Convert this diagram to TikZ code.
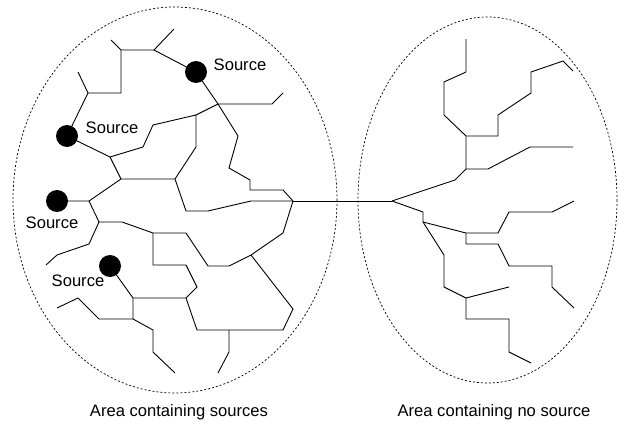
\documentclass[tikz,border=0pt]{standalone}
\usepackage{fontspec}
\setmainfont{Liberation Sans}
\begin{document}
\begin{tikzpicture}[x=1pt,y=-1pt,
  branch/.style={line width=0.9pt,line join=miter},
  area/.style={draw,line width=0.7pt,dash pattern=on 2pt off 2pt},
  src/.style={circle,fill=black,minimum size=22pt,inner sep=0pt},
  lbl/.style={font=\fontsize{16.6}{19}\selectfont,inner sep=0pt}]
\useasboundingbox (0,0) rectangle (619,423);
% areas
\draw[area] (175,200) ellipse [x radius=162,y radius=193];
\draw[area] (487.5,200) ellipse [x radius=129.5,y radius=183];
% sources
\node[src] (s1) at (196,72) {};
\node[src] (s2) at (67,136) {};
\node[src] (s3) at (57,201) {};
\node[src] (s4) at (110,266) {};
\node[lbl] (l1) at (240,65) {Source};
\node[lbl] (l2) at (112,128) {Source};
\node[lbl] (l3) at (52,223) {Source};
\node[lbl] (l4) at (78,281) {Source};
\node[lbl] (t1) at (179,412) {Area containing sources};
\node[lbl] (t2) at (494,412) {Area containing no source};
% junctions
\coordinate (a1) at (154,50);
\coordinate (a2) at (121,50);
\coordinate (a3) at (88,93);
\coordinate (J1) at (218,104);
\coordinate (a4) at (196,115);
\coordinate (a5) at (110,157);
\coordinate (a6) at (175,179);
\coordinate (a7) at (121,179);
\coordinate (a8) at (89,201);
\coordinate (a9) at (99,222);
\coordinate (a10) at (153,233);
\coordinate (a11) at (251,255);
\coordinate (a12) at (186,298);
\coordinate (a13) at (133,298);
\coordinate (a15) at (229,330);
\coordinate (a16) at (133,319);
\coordinate (J0) at (293,201);
\coordinate (J2) at (392,201);
\coordinate (b1) at (466,169);
\coordinate (b2) at (466,136);
\coordinate (b3) at (423,222);
\coordinate (b4) at (466,233);
\coordinate (b5) at (466,298);
% left network
\draw[branch] (s1.center) -- (a1) -- (174,29);
\draw[branch] (a1) -- (a2) -- (111,40);
\draw[branch] (a2) -- (121,93) -- (a3) -- (78,72);
\draw[branch] (a3) -- (s2.center);
\draw[branch] (s1.center) -- (J1) -- (272,104) -- (283,93);
\draw[branch] (J1) -- (a4) -- (153,125) -- (143,147) -- (a5);
\draw[branch] (s2.center) -- (a5);
\draw[branch] (a4) -- (196,147) -- (a6);
\draw[branch] (a5) -- (a7) -- (a6);
\draw[branch] (J1) -- (238,136) -- (229,168) -- (250,180) -- (250,190) -- (283,190) -- (J0);
\draw[branch] (a7) -- (a8) -- (s3.center);
\draw[branch] (a6) -- (186,211) -- (208,211) -- (251,201) -- (J0);
\draw[branch] (a8) -- (a9) -- (122,222) -- (a10) -- (186,233) -- (208,266) -- (229,266) -- (a11) -- (283,233) -- (J0);
\draw[branch] (a9) -- (89,244) -- (57,255) -- (46,265);
\draw[branch] (a10) -- (153,265) -- (186,265) -- (197,287) -- (a12);
\draw[branch] (s4.center) -- (a13) -- (a12);
\draw[branch] (a12) -- (197,330) -- (a15) -- (283,330) -- (293,309) -- (a11);
\draw[branch] (a15) -- (229,352) -- (218,373);
\draw[branch] (a13) -- (a16) -- (99,319) -- (78,298) -- (57,308);
\draw[branch] (a16) -- (153,330) -- (153,352) -- (175,373);
% link
\draw[branch] (J0) -- (J2);
% right network
\draw[branch] (J2) -- (455,180) -- (b1) -- (488,169) -- (530,147) -- (573,147);
\draw[branch] (b1) -- (b2) -- (444,115) -- (444,82) -- (466,72) -- (466,39);
\draw[branch] (b2) -- (498,136) -- (498,115) -- (531,93) -- (531,72) -- (563,61) -- (573,71);
\draw[branch] (J2) -- (423,212) -- (b3) -- (b4) -- (498,233) -- (509,212) -- (552,212) -- (574,201);
\draw[branch] (b4) -- (466,244) -- (498,244) -- (509,266) -- (552,266) -- (552,287) -- (574,308);
\draw[branch] (b3) -- (444,255) -- (444,287) -- (b5) -- (509,287);
\draw[branch] (b5) -- (466,319) -- (509,319) -- (509,352) -- (531,363);
\end{tikzpicture}
\end{document}
